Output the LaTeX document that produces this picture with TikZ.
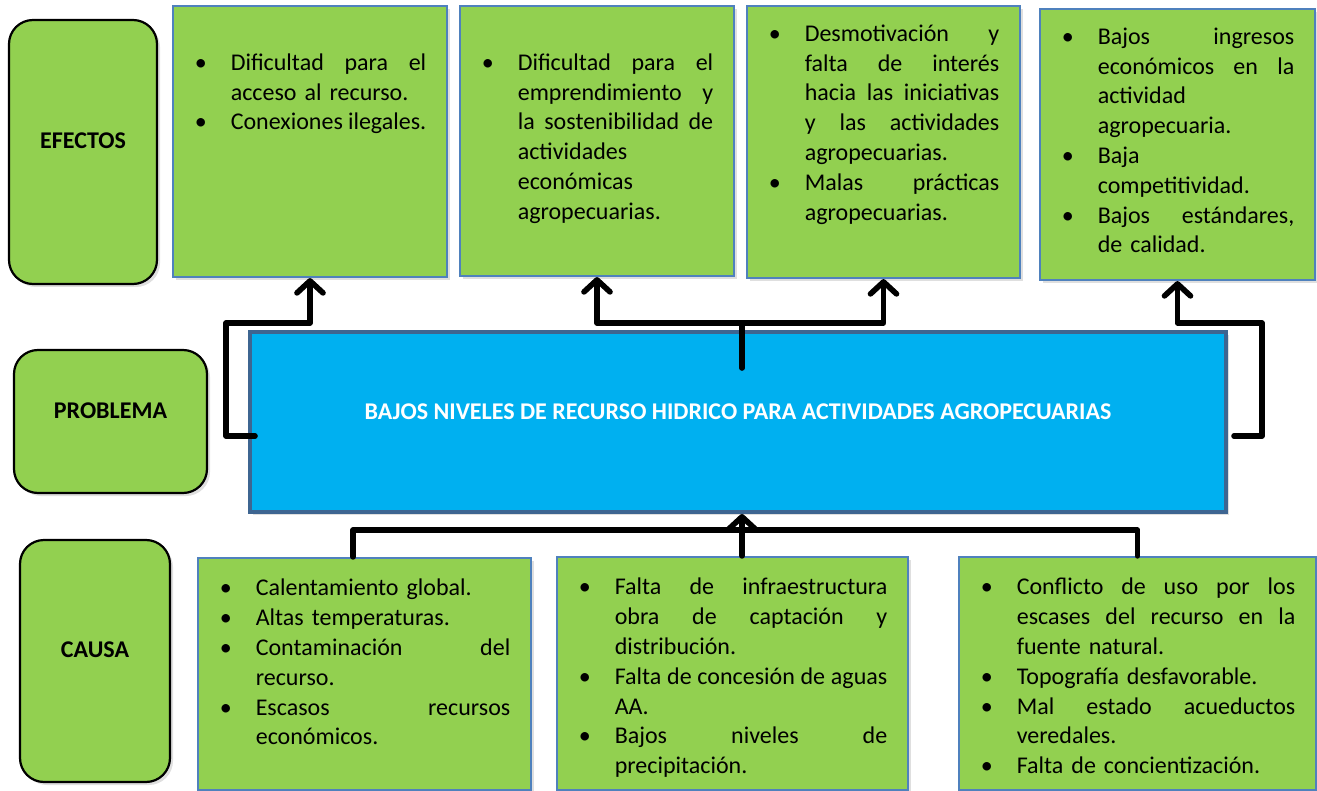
\documentclass[tikz,border=0pt]{standalone}
\usepackage{fontspec}
\setmainfont{Carlito}
\usetikzlibrary{arrows.meta,shadows}

\definecolor{verde}{HTML}{92D050}
\definecolor{azulborde}{HTML}{4F81BD}
\definecolor{celeste}{HTML}{00B0F0}
\definecolor{azuloscuro}{HTML}{3E6591}

\newlength{\sangria}
\setlength{\sangria}{18pt}
\newlength{\anchotxt}
\newcommand{\pto}{\makebox[\sangria][l]{\textbullet}}
\newcommand{\sig}{\hspace*{\sangria}}
\newcommand{\lj}[1]{{\spaceskip=0.226em plus 3em minus 0.12em\relax\hbox to\anchotxt{#1}}}
\newcommand{\ini}{\rule{0pt}{10pt}}

\tikzset{
  caja/.style={draw=azulborde, line width=1.1pt, fill=verde, inner sep=0pt,
    drop shadow={opacity=0.25, shadow xshift=1.5pt, shadow yshift=-1.5pt}},
  rotulo/.style={draw=black, line width=1.1pt, fill=verde, rounded corners=12pt,
    inner sep=0pt, text height=8pt, text depth=11.5pt,
    font=\fontsize{12}{14}\selectfont\bfseries,
    drop shadow={opacity=0.25, shadow xshift=1.5pt, shadow yshift=-1.5pt}},
  lista/.style={anchor=north west, inner sep=0pt, align=left, text width=#1,
    font=\fontsize{12}{14.9}\selectfont,
    execute at begin node={\setlength{\anchotxt}{#1}\addtolength{\anchotxt}{-\sangria}}},
  linea/.style={line width=2.8pt, line cap=round, line join=round},
  flecha/.style={linea, -{Straight Barb[round, length=6pt, width=13pt]}},
}

\begin{document}
\begin{tikzpicture}[x=0.5pt, y=-0.5pt]
  \useasboundingbox (0,0) rectangle (1317,791);

  % rotulos de la izquierda
  \node[rotulo, minimum width=74pt, minimum height=132pt] (efectos) at (83,152) {EFECTOS};
  \node[rotulo, minimum width=96.5pt, minimum height=71.5pt] (problema) at (110.5,421.5) {PROBLEMA};
  \node[rotulo, minimum width=75pt, minimum height=121pt] (causa) at (95,661) {CAUSA};

  % efectos
  \node[caja, minimum width=137pt, minimum height=135.5pt] (efe1) at (310,141.5) {};
  \node[caja, minimum width=137pt, minimum height=135pt] (efe2) at (597,141) {};
  \node[caja, minimum width=136.5pt, minimum height=136pt] (efe3) at (883.5,142) {};
  \node[caja, minimum width=137.5pt, minimum height=135.5pt] (efe4) at (1177.5,144.5) {};

  \node[lista=115.75pt] (efe1t) at ([xshift=11.25pt,yshift=-22.5pt]efe1.north west) {%
    \ini\pto\lj{Dificultad para el}\\
    \sig acceso al recurso.\\
    \pto\lj{Conexiones ilegales.}};
  \node[lista=115.75pt] (efe2t) at ([xshift=11.25pt,yshift=-22.5pt]efe2.north west) {%
    \ini\pto\lj{Dificultad para el}\\
    \sig\lj{emprendimiento y}\\
    \sig\lj{la sostenibilidad de}\\
    \sig actividades\\
    \sig económicas\\
    \sig agropecuarias.};
  \node[lista=115.25pt] (efe3t) at ([xshift=11.25pt,yshift=-8pt]efe3.north west) {%
    \ini\pto\lj{Desmotivación y}\\
    \sig\lj{falta de interés}\\
    \sig\lj{hacia las iniciativas}\\
    \sig\lj{y las actividades}\\
    \sig agropecuarias.\\
    \pto\lj{Malas prácticas}\\
    \sig agropecuarias.};
  \node[lista=116.25pt] (efe4t) at ([xshift=11.25pt,yshift=-8pt]efe4.north west) {%
    \ini\pto\lj{Bajos ingresos}\\
    \sig\lj{económicos en la}\\
    \sig actividad\\
    \sig agropecuaria.\\
    \pto Baja\\
    \sig competitividad.\\
    \pto\lj{Bajos estándares,}\\
    \sig de calidad.};

  % problema
  \node[draw=azuloscuro, line width=2pt, fill=celeste, minimum width=488pt,
    minimum height=90pt, text=white, text height=8pt, text depth=11pt,
    font=\fontsize{12}{14}\selectfont\bfseries,
    drop shadow={opacity=0.25, shadow xshift=1.5pt, shadow yshift=-1.5pt}]
    (prob) at (738,422) {BAJOS NIVELES DE RECURSO HIDRICO PARA ACTIVIDADES AGROPECUARIAS};

  % causas
  \node[caja, minimum width=166.5pt, minimum height=116pt] (cau1) at (364.5,674) {};
  \node[caja, minimum width=175.5pt, minimum height=116.5pt] (cau2) at (732.5,673.5) {};
  \node[caja, minimum width=178.5pt, minimum height=116.5pt] (cau3) at (1137.5,673.5) {};

  \node[lista=145.25pt] (cau1t) at ([xshift=11.25pt,yshift=-9.25pt]cau1.north west) {%
    \ini\pto Calentamiento global.\\
    \pto Altas temperaturas.\\
    \pto\lj{Contaminación del}\\
    \sig recurso.\\
    \pto\lj{Escasos recursos}\\
    \sig económicos.};
  \node[lista=154.25pt] (cau2t) at ([xshift=11.25pt,yshift=-9.25pt]cau2.north west) {%
    \ini\pto\lj{Falta de infraestructura}\\
    \sig\lj{obra de captación y}\\
    \sig distribución.\\
    \pto\lj{Falta de concesión de aguas}\\
    \sig AA.\\
    \pto\lj{Bajos niveles de}\\
    \sig precipitación.};
  \node[lista=157.25pt] (cau3t) at ([xshift=11.25pt,yshift=-9.25pt]cau3.north west) {%
    \ini\pto\lj{Conflicto de uso por los}\\
    \sig\lj{escases del recurso en la}\\
    \sig fuente natural.\\
    \pto Topografía desfavorable.\\
    \pto\lj{Mal estado acueductos}\\
    \sig veredales.\\
    \pto Falta de concientización.};

  % conectores
  \coordinate (izq) at (226,323);
  \coordinate (cen) at (742,323);
  \coordinate (cenb) at (742,368);
  \coordinate (der) at (1262,323);
  \coordinate (abj) at (742,530);

  \draw[flecha] ([xshift=3.5pt,yshift=-7pt]prob.west) -| (izq) -| (efe1.south);
  \draw[linea] (cenb) -- (cen);
  \draw[flecha] (cen) -| (efe2.south);
  \draw[flecha] (cen) -| (efe3.south);
  \draw[flecha] ([xshift=3pt,yshift=-7pt]prob.east) -| (der) -| (efe4.south);
  \draw[linea] ([xshift=-5.75pt]cau1.north) |- (abj) -| (cau3.north);
  \draw[flecha] (abj |- cau2.north) -- (abj |- prob.south);
\end{tikzpicture}
\end{document}
